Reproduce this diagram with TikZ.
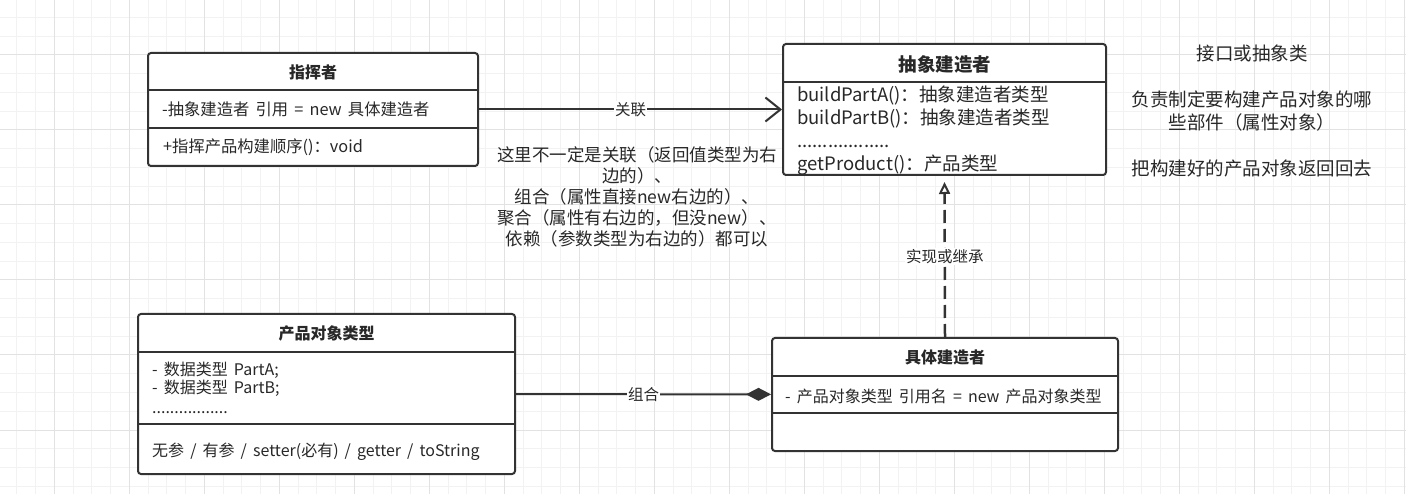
\documentclass[tikz,border=0pt]{standalone}
\usepackage{fontspec}
\setmainfont[WordSpace=1.7]{Noto Sans CJK SC}
\usetikzlibrary{arrows.meta}
\definecolor{umlline}{RGB}{51,51,51}
\definecolor{umltext}{RGB}{40,40,40}
\definecolor{gridminor}{RGB}{242,242,242}
\definecolor{gridmajor}{RGB}{226,226,226}
\newcommand{\pxfont}[2]{\fontsize{#1}{#2}\selectfont}
\tikzset{
  gridfine/.style={draw=gridminor,line width=1pt},
  gridbold/.style={draw=gridmajor,line width=1pt},
  classbox/.style={draw=umlline,fill=white,line width=2pt,rounded corners=3pt,
                   inner sep=0pt},
  sepline/.style={draw=umlline,line width=2pt},
  classname/.style={inner sep=0pt,text=umltext,font=\pxfont{16}{19}\bfseries},
  member/.style={anchor=base west,inner sep=0pt,text=umltext,font=\pxfont{16.3}{19}},
  bigmember/.style={member,font=\pxfont{18.5}{22}},
  midmember/.style={member,font=\pxfont{16}{19}},
  remark/.style={align=center,inner sep=0pt,text=umltext,font=\pxfont{17.5}{21}},
  notetext/.style={align=center,inner sep=0pt,text=umltext,font=\pxfont{18.5}{23}},
  edgelabel/.style={fill=white,inner sep=1pt,text=umltext,font=\pxfont{15.5}{18}},
  assoc/.style={draw=umlline,line width=2pt,
                -{Straight Barb[length=15pt,width=24pt]}},
  realize/.style={draw=umlline,line width=2.5pt,dash pattern=on 13pt off 6pt,
                  shorten >=6pt,-{Triangle[open,fill=white,length=12pt,width=11pt,line width=2pt]}},
  compose/.style={draw=umlline,line width=2pt,
                  -{Diamond[fill=umlline,length=25pt,width=13pt]}},
}
\begin{document}
\begin{tikzpicture}[x=1pt,y=-1pt]
  % --- paper and grid
  \fill[white] (0,0) rectangle (1406,494);
  \useasboundingbox (0,0) rectangle (1406,494);
  \foreach \k in {0,...,74}
    \draw[gridfine] ({16.8+18.75*\k},0) -- ({16.8+18.75*\k},494);
  \foreach \k in {0,...,26}
    \draw[gridfine] (0,{17.5+18.75*\k}) -- (1406,{17.5+18.75*\k});
  \foreach \k in {0,...,18}
    \draw[gridbold] ({54.3+75*\k},0) -- ({54.3+75*\k},494);
  \foreach \k in {0,...,5}
    \draw[gridbold] (0,{55+75*\k}) -- (1406,{55+75*\k});

  % --- director
  \node[classbox,minimum width=330pt,minimum height=113pt] (director) at (313,109.5) {};
  \draw[sepline] (director.west |- 0,90) -- (director.east |- 0,90);
  \draw[sepline] (director.west |- 0,128) -- (director.east |- 0,128);
  \node[classname] (directortitle) at (313,72) {指挥者};
  \node[member] (directorattr) at (162,116) {-抽象建造者 引用 = new 具体建造者};
  \node[member] (directorop) at (163,153) {+指挥产品构建顺序()：void};

  % --- abstract builder
  \node[classbox,minimum width=323pt,minimum height=131pt] (builder) at (944.5,109.5) {};
  \draw[sepline] (builder.west |- 0,82) -- (builder.east |- 0,82);
  \node[classname,font=\pxfont{18.5}{22}\bfseries] (buildertitle) at (945,64) {抽象建造者};
  \node[bigmember] (buildera) at (797,101.8) {buildPartA()：抽象建造者类型};
  \node[bigmember] (builderb) at (797,124.8) {buildPartB()：抽象建造者类型};
  \node[bigmember] (builderdots) at (797,148) {..................};
  \node[bigmember] (builderget) at (797,171) {getProduct()：产品类型};

  % --- product
  \node[classbox,minimum width=377pt,minimum height=160pt] (product) at (326.5,394) {};
  \draw[sepline] (product.west |- 0,352) -- (product.east |- 0,352);
  \draw[sepline] (product.west |- 0,424) -- (product.east |- 0,424);
  \node[classname] (producttitle) at (326.5,333) {产品对象类型};
  \node[midmember] (producta) at (152,376) {- 数据类型 PartA;};
  \node[midmember] (productb) at (152,393) {- 数据类型 PartB;};
  \node[midmember] (productdots) at (152,413) {.................};
  \node[midmember] (productop) at (152,456) {无参 / 有参 / setter(必有) / getter / toString};

  % --- concrete builder
  \node[classbox,minimum width=346pt,minimum height=113pt] (concrete) at (945,394.5) {};
  \draw[sepline] (concrete.west |- 0,376) -- (concrete.east |- 0,376);
  \draw[sepline] (concrete.west |- 0,413) -- (concrete.east |- 0,413);
  \node[classname] (concretetitle) at (945,357) {具体建造者};
  \node[midmember] (concreteattr) at (785,402) {- 产品对象类型 引用名 = new 产品对象类型};

  % --- relations
  \draw[assoc] (director) -- (builder) node[edgelabel,midway] (assoclabel) {关联};
  \draw[realize] (concrete.north) -- (builder.south)
    node[edgelabel,midway] (realizelabel) {实现或继承};
  \draw[compose] (product) -- (concrete) node[edgelabel,midway] (composelabel) {组合};

  % --- free notes
  \node[remark] (remarktext) at (637,197)
    {这里不一定是关联（返回值类型为右\\边的）、\\组合（属性直接new右边的）、\\
     聚合（属性有右边的，但没new）、\\依赖（参数类型为右边的）都可以};
  \node[notetext] (notes) at (1252,110.5)
    {接口或抽象类\\[23pt]负责制定要构建产品对象的哪\\些部件（属性对象）\\[23pt]
     把构建好的产品对象返回回去};
\end{tikzpicture}
\end{document}
